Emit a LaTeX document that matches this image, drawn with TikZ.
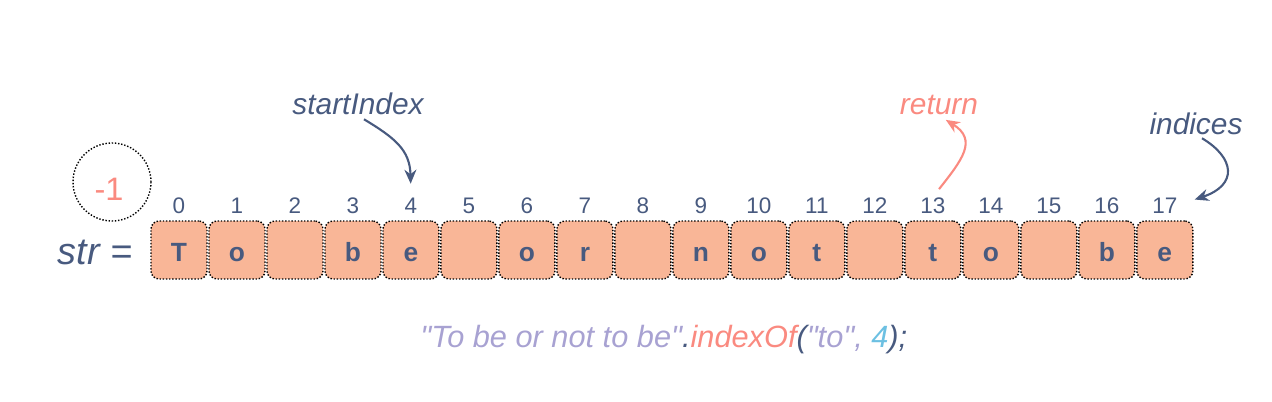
\documentclass[tikz,border=0pt]{standalone}
\usepackage{fontspec}
\setmainfont{Liberation Sans}
\usetikzlibrary{positioning,chains,arrows.meta}

\definecolor{inkblue}{HTML}{485A7F}
\definecolor{salmon}{HTML}{FA8A80}
\definecolor{boxfill}{HTML}{F9B697}
\definecolor{strcol}{HTML}{A8A2D2}
\definecolor{numcol}{HTML}{6CC0E2}

\begin{document}
\begin{tikzpicture}[x=0.02cm,y=-0.02cm]
\useasboundingbox (0,0) rectangle (1272,402);

\tikzstyle{charbox}=[draw,densely dotted,line width=0.8pt,rounded corners=0.16cm,
    fill=boxfill,minimum width=1.12cm,minimum height=1.16cm,inner sep=0pt,outer sep=0pt,
    text height=0.48cm,text depth=0pt,text=inkblue,font=\fontsize{15}{18}\selectfont\bfseries]
\tikzstyle{idx}=[anchor=base,inner sep=0pt,text=inkblue,font=\fontsize{12.8}{15}\selectfont]
\tikzstyle{note}=[anchor=base,inner sep=0pt,font=\fontsize{17}{20}\selectfont\itshape]
\tikzstyle{curved}=[line width=1.2pt,-{Stealth[length=0.28cm,width=0.24cm]}]

%% Draw the string cells
\begin{scope}[shift={(179,250)},start chain=1 going right,node distance=0.04cm]
    \foreach \c [count=\i from 0] in {T,o,{},b,e,{},o,r,{},n,o,t,{},t,o,{},b,e}
        \node [on chain=1,charbox] (c\i) {\c};
\end{scope}

%% Index numbers above the cells
\foreach \i in {0,...,17}
    \node [idx] (n\i) at ([yshift=0.16cm]c\i.north) {\i};

\node [note,text=inkblue,font=\fontsize{21.5}{24}\selectfont\itshape] (strlbl) at (95,264) {str =};

% Not-found result
\node [draw,circle,densely dotted,line width=0.8pt,minimum size=1.56cm,inner sep=0pt] (ring) at (112,182) {};
\node [anchor=base,inner sep=0pt,text=salmon,font=\fontsize{18.5}{20}\selectfont] (minusone) at (109,200) {-1};

%% Labels and arrows
\node [note,text=inkblue] (startlbl) at (358,115) {startIndex};
\node [note,text=salmon] (returnlbl) at (939,115) {return};
\node [note,text=inkblue] (indiceslbl) at (1196,134) {indices};

\draw [curved,inkblue,shorten <=0.14cm,shorten >=0.27cm] (startlbl.south)
    .. controls (395,138) and (410,150) .. (n4.north);
\draw [curved,salmon,shorten <=0.2cm,shorten >=0.16cm] (n13.north)
    .. controls (962,160) and (978,140) .. (returnlbl.south);
\draw [curved,inkblue,shorten <=0.14cm,shorten >=0.36cm] (indiceslbl.south)
    .. controls (1235,158) and (1238,185) .. (n17.east);

%% The call
\node [note,anchor=base west,font=\fontsize{17.5}{20}\selectfont\itshape] (code) at (420,347)
    {\textcolor{strcol}{\textquotedbl To be or not to be\textquotedbl}\textcolor{inkblue}{.}\textcolor{salmon}{indexOf}%
     \textcolor{inkblue}{(}\textcolor{strcol}{\textquotedbl to\textquotedbl,} \textcolor{numcol}{4}\textcolor{inkblue}{);}};

\end{tikzpicture}
\end{document}
